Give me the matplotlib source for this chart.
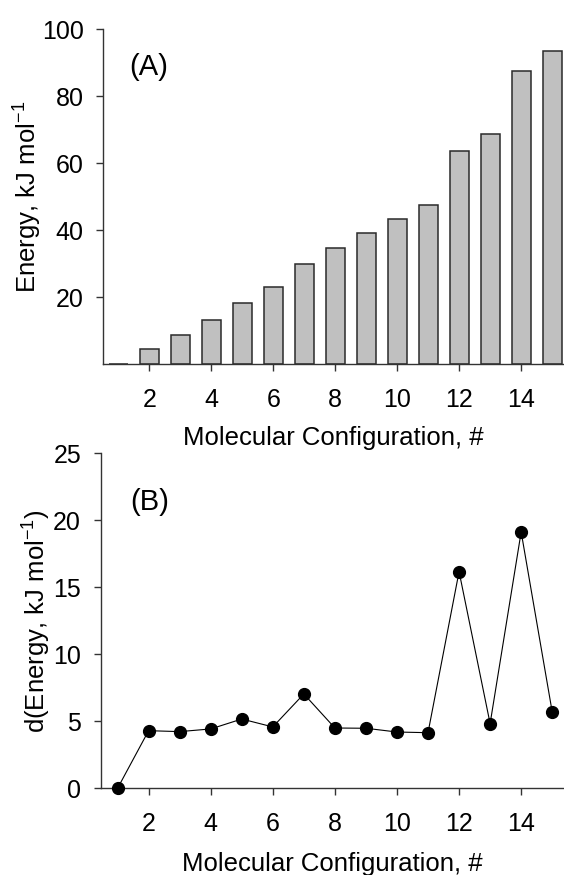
import matplotlib
matplotlib.use("Agg")
import matplotlib.pyplot as plt

plt.rcParams['font.family'] = ['Liberation Sans', 'DejaVu Sans']
plt.rcParams['mathtext.fontset'] = 'custom'
plt.rcParams['mathtext.rm'] = 'Liberation Sans'
plt.rcParams['mathtext.default'] = 'regular'

# ---- data ----
configs = list(range(1, 16))
energy = [0, 4.5, 8.7, 13.2, 18.4, 23.0, 29.9, 34.6, 39.1, 43.4, 47.5, 63.6, 68.6, 87.7, 93.4]
d_energy = [0, 4.30, 4.23, 4.43, 5.17, 4.58, 7.04, 4.50, 4.48, 4.20, 4.15, 16.17, 4.83, 19.13, 5.70]
x_ticks = [2, 4, 6, 8, 10, 12, 14]
y_ticks_a = [20, 40, 60, 80, 100]
y_ticks_b = [0, 5, 10, 15, 20, 25]

W, H = 564, 875
fig = plt.figure(figsize=(W / 100, H / 100), dpi=100)

spine_col = '#333333'
tick_fs = 18
label_fs = 18.5
panel_fs = 21

def px_axes(left, right, bottom, top):
    return fig.add_axes([left / W, 1 - bottom / H, (right - left) / W, (bottom - top) / H])

def style(ax):
    for s in ['top', 'right']:
        ax.spines[s].set_visible(False)
    for s in ['left', 'bottom']:
        ax.spines[s].set_color(spine_col)
        ax.spines[s].set_linewidth(1.0)
    ax.tick_params(axis='y', direction='out', length=5, width=1, color=spine_col,
                   labelsize=tick_fs, pad=9)
    ax.tick_params(axis='x', direction='out', length=5, width=1, color=spine_col,
                   labelsize=tick_fs, pad=12)

# ---- panel A ----
axA = px_axes(103, 564, 364.3, 29.3)
axA.bar(configs, energy, width=0.62, color='#c0c0c0', edgecolor='#2a2a2a', linewidth=1.1, zorder=2)
axA.set_xlim(0.5, 15.38)
axA.set_ylim(0, 100)
axA.set_xticks(x_ticks)
axA.set_yticks(y_ticks_a)
style(axA)
axA.set_xlabel('Molecular Configuration, #', fontsize=label_fs)
axA.xaxis.set_label_coords(0.5, -0.183)
axA.set_ylabel('Energy, kJ mol$^{-1}$', fontsize=label_fs)
axA.yaxis.set_label_coords(-0.129, 0.5)
axA.text(0.057, 0.887, '(A)', transform=axA.transAxes, fontsize=panel_fs, va='center', ha='left')

# ---- panel B ----
axB = px_axes(100.5, 564, 788.3, 453.3)
axB.plot(configs, d_energy, color='black', linewidth=0.8, marker='o', markersize=8.5,
         markerfacecolor='black', markeredgecolor='black', clip_on=False, zorder=3)
axB.set_xlim(0.45, 15.38)
axB.set_ylim(0, 25)
axB.set_xticks(x_ticks)
axB.set_yticks(y_ticks_b)
style(axB)
axB.set_xlabel('Molecular Configuration, #', fontsize=label_fs)
axB.xaxis.set_label_coords(0.5, -0.19)
axB.set_ylabel('d(Energy, kJ mol$^{-1}$)', fontsize=label_fs)
axB.yaxis.set_label_coords(-0.103, 0.5)
axB.text(0.064, 0.855, '(B)', transform=axB.transAxes, fontsize=panel_fs, va='center', ha='left')

fig.savefig('out.png', dpi=100)
